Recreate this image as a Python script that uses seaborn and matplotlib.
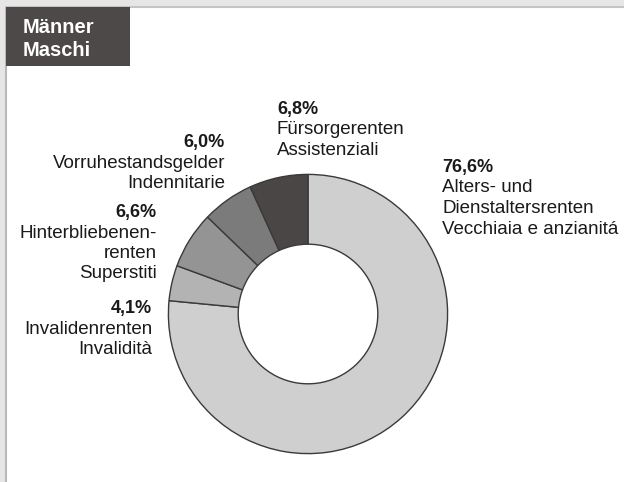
import matplotlib.pyplot as plt
import seaborn as sns
from matplotlib.patches import Rectangle
from matplotlib.lines import Line2D

# ==========================================
# Daten (Anteile Renten Männer)
# ==========================================
anteile = [76.6, 4.1, 6.6, 6.0, 6.8]
prozent_labels = ['76,6%', '4,1%', '6,6%', '6,0%', '6,8%']
namen = [
    ['Alters- und', 'Dienstaltersrenten', 'Vecchiaia e anzianitá'],
    ['Invalidenrenten', 'Invalidità'],
    ['Hinterbliebenen-', 'renten', 'Superstiti'],
    ['Vorruhestandsgelder', 'Indennitarie'],
    ['Fürsorgerenten', 'Assistenziali'],
]
farben = ['#cfcfcf', '#b3b3b3', '#949494', '#7b7b7b', '#4a4645']
titel = ['Männer', 'Maschi']

# Layout der Beschriftungen in Pixeln: (x, Grundlinie erste Zeile, Ausrichtung)
label_pos = [(442, 172, 'left'), (152, 313, 'right'), (157, 217, 'right'),
             (225, 147, 'right'), (277, 114, 'left')]
ZEILE = 20.5

W, H = 624, 482

sns.set_theme(style="white")
plt.rcParams['font.family'] = ['Liberation Sans', 'DejaVu Sans']

fig = plt.figure(figsize=(W / 100, H / 100), dpi=100)
fig.patch.set_facecolor('#e6e6e6')


def px(x, y):
    return x / W, 1 - y / H


# Rahmen
fig.patches.append(Rectangle(px(6, H), (W - 6) / W, (H - 7) / H,
                             transform=fig.transFigure, facecolor='white',
                             edgecolor='none', zorder=-5))
fig.add_artist(Line2D([6 / W, 6 / W], [0, 1 - 7 / H], transform=fig.transFigure,
                      color='#b8b8b8', lw=1.5, zorder=-4))
fig.add_artist(Line2D([6 / W, 1], [1 - 7 / H, 1 - 7 / H], transform=fig.transFigure,
                      color='#c4c4c4', lw=1.5, zorder=-4))

# Titelbox
fig.patches.append(Rectangle(px(6, 66), 124 / W, 59 / H, transform=fig.transFigure,
                             facecolor='#4d4948', edgecolor='none', zorder=1))
for i, t in enumerate(titel):
    fig.text(*px(23, 33 + i * 23), t, color='white', fontsize=14.5,
             fontweight='bold', va='baseline', ha='left', zorder=2)

# Donut
cx, cy, r = 308, 314, 141
ax = fig.add_axes([(cx - r) / W, (H - cy - r) / H, 2 * r / W, 2 * r / H])
ax.set_zorder(3)
ax.pie(anteile, colors=farben, startangle=90, counterclock=False, radius=1,
       wedgeprops=dict(width=0.5, edgecolor='#3a3a3a', linewidth=1))
ax.set_xlim(-1.01, 1.01)
ax.set_ylim(-1.01, 1.01)
ax.axis('off')

# Beschriftungen
for (x, y, ha), p, zeilen in zip(label_pos, prozent_labels, namen):
    fig.text(*px(x, y), p, fontsize=13, fontweight='bold', color='#1a1a1a',
             ha=ha, va='baseline')
    for j, z in enumerate(zeilen):
        fig.text(*px(x, y + (j + 1) * ZEILE), z, fontsize=13.5, color='#1a1a1a',
                 ha=ha, va='baseline')

plt.savefig('out.png', dpi=100, facecolor=fig.get_facecolor())
plt.close()
